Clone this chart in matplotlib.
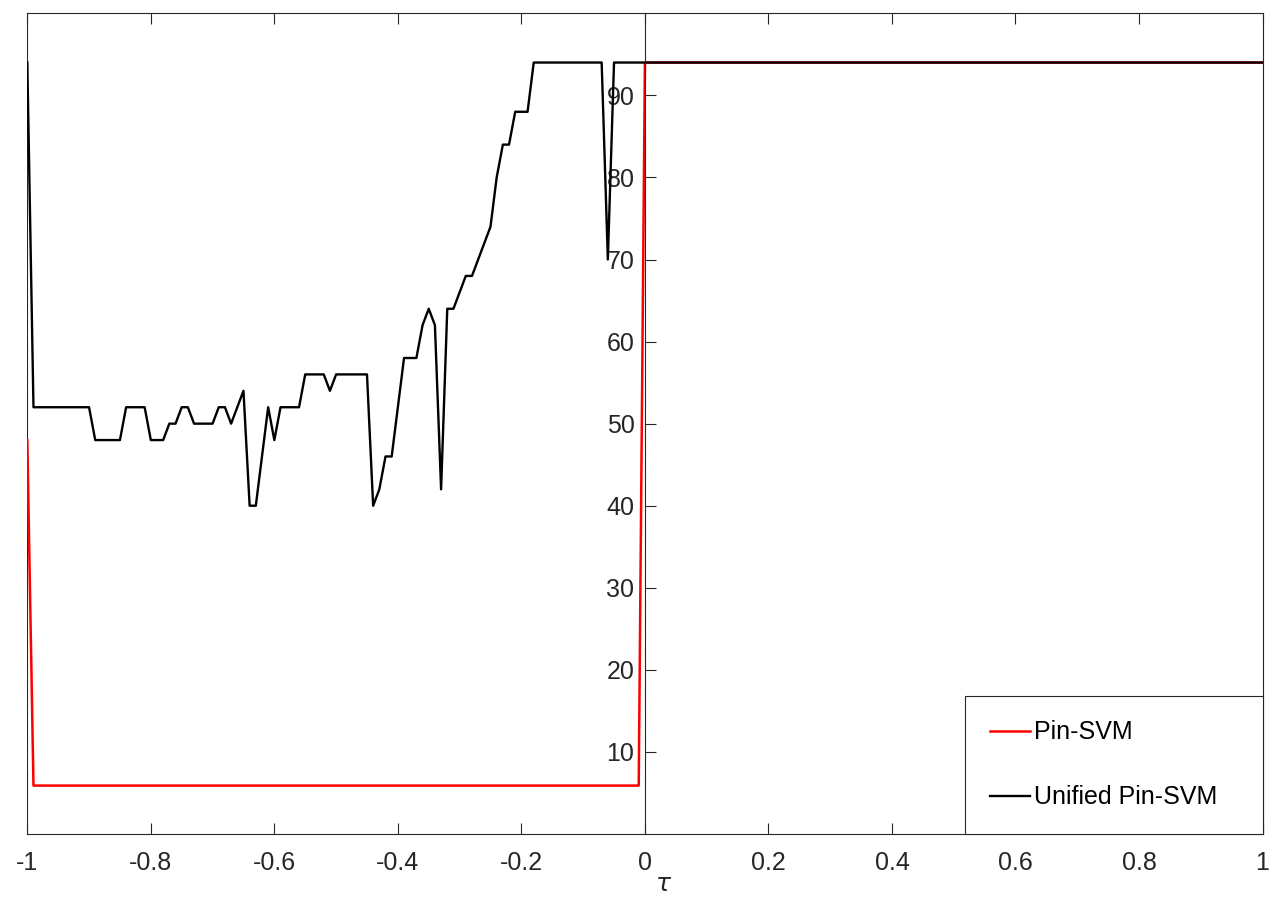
import numpy as np
import matplotlib
matplotlib.use("Agg")
import matplotlib.pyplot as plt

plt.rcParams['font.family'] = ['Liberation Sans', 'DejaVu Sans']
plt.rcParams['mathtext.fontset'] = 'dejavusans'

# tau grid (step 0.01 from -1 to 1)
tau = np.round(np.arange(-100, 101) / 100.0, 2)

pin_svm = [48.0] + [5.9] * 99 + [94.0] * 101

unified_pin_svm = (
    [94]
    + [52] * 10
    + [48] * 5
    + [52] * 4
    + [48] * 3
    + [50, 50]
    + [52, 52]
    + [50] * 4
    + [52, 52, 50, 52, 54, 40, 40, 46, 52, 48]
    + [52] * 4
    + [56] * 4
    + [54]
    + [56] * 6
    + [40, 42, 46, 46, 52, 58, 58, 58, 62, 64, 62, 42, 64, 64, 66, 68, 68, 70, 72, 74, 80, 84, 84, 88, 88, 88]
    + [94] * 12
    + [70]
    + [94] * 106
)

xticks = [-1, -0.8, -0.6, -0.4, -0.2, 0, 0.2, 0.4, 0.6, 0.8, 1]
xticklabels = ['-1', '-0.8', '-0.6', '-0.4', '-0.2', '0', '0.2', '0.4', '0.6', '0.8', '1']
yticks = [10, 20, 30, 40, 50, 60, 70, 80, 90]
yticklabels = ['10', '20', '30', '40', '50', '60', '70', '80', '90']

axc = '#262626'
W, H = 1280, 908
fig = plt.figure(figsize=(W / 100, H / 100), dpi=100)
left, right, bottom, top = 27.3, 1262.5, 834.0, 13.3
ax = fig.add_axes([left / W, 1 - bottom / H, (right - left) / W, (bottom - top) / H])

ax.plot(tau, pin_svm, color='red', lw=1.8, label='Pin-SVM')
ax.plot(tau, unified_pin_svm, color='black', lw=1.7, label='Unified Pin-SVM')

ax.set_xlim(-1, 1)
ax.set_ylim(0, 100)

for s in ax.spines.values():
    s.set_color(axc)
    s.set_linewidth(0.8)
ax.spines['left'].set_position(('data', 0))
ax.axvline(-1, color=axc, lw=0.8, zorder=0.5)

ax.set_xticks(xticks)
ax.set_xticklabels(xticklabels)
ax.set_yticks(yticks)
ax.set_yticklabels(yticklabels)
ax.tick_params(axis='x', direction='in', length=8, width=0.8, top=True, bottom=True,
               labelsize=18, colors=axc, pad=12)
ax.tick_params(axis='y', direction='in', length=8, width=0.8, left=True, right=False,
               labelsize=18, colors=axc, pad=7.5)

fig.text(664 / W, 1 - 884 / H, r'$\tau$', fontsize=18, color=axc, ha='center', va='center')

x0 = (965.3 - left) / (right - left)
leg = ax.legend(loc='lower left', bbox_to_anchor=(x0, 0.0, 1 - x0, 0.2), mode='expand',
                borderaxespad=0, fontsize=18, handlelength=1.6, handletextpad=0.15,
                labelspacing=1.65, borderpad=0.98, fancybox=False, framealpha=1)
leg.get_frame().set_edgecolor(axc)
leg.get_frame().set_linewidth(0.8)
for t in leg.get_texts():
    t.set_color('black')

fig.savefig('out.png', dpi=100)
